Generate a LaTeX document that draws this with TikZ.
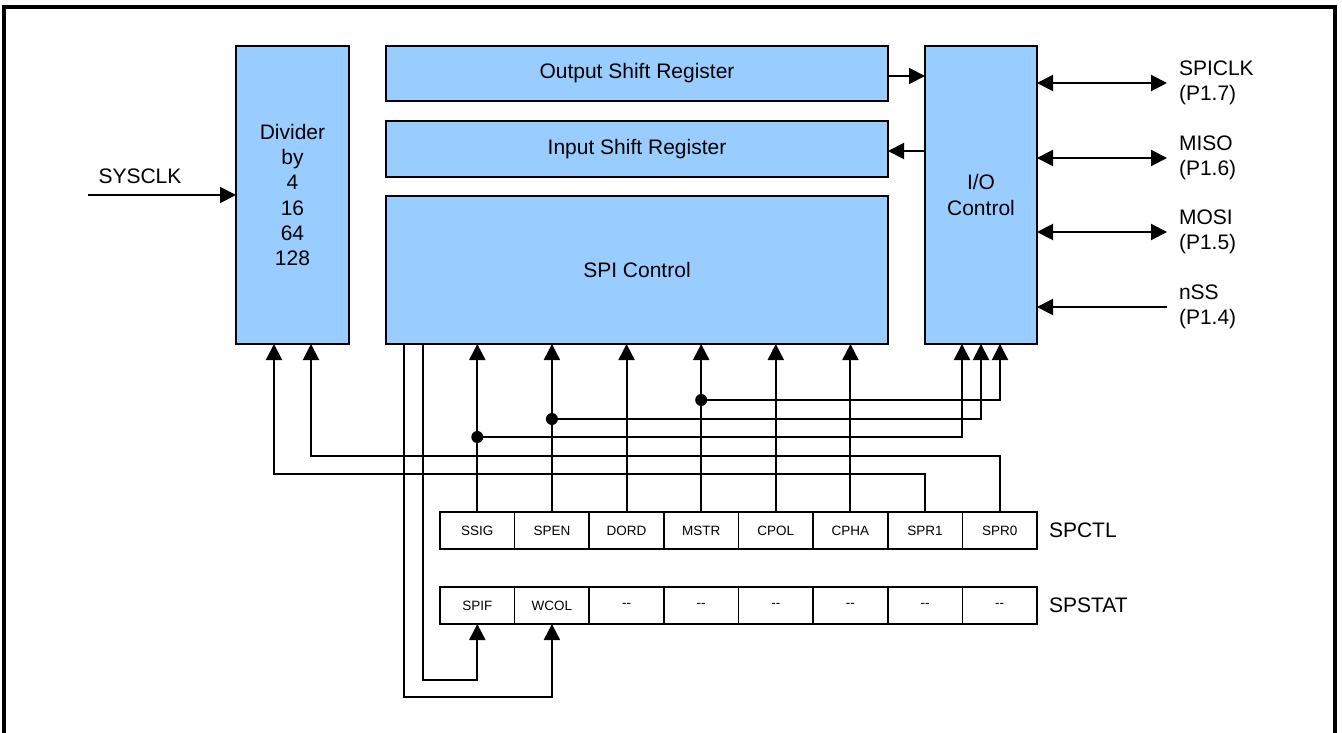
\documentclass[tikz,border=0pt]{standalone}
\usepackage{fontspec}
\setmainfont{Liberation Sans}
\usetikzlibrary{arrows.meta}
\definecolor{boxblue}{HTML}{99CCFF}
\newcommand\lblfont{\fontsize{21}{25.2}\selectfont}
\newcommand\cellfont{\fontsize{13.5}{16}\selectfont}
\begin{document}
\begin{tikzpicture}[x=1pt,y=-1pt,
  line width=2pt,
  box/.style={draw, fill=boxblue, line width=2pt, inner sep=0pt, outer sep=0pt, align=center, font=\lblfont},
  cell/.style={draw, line width=1.6pt, minimum width=74.6pt, minimum height=37pt, inner sep=0pt, outer sep=0pt, font=\cellfont},
  arr/.style={-{Triangle[length=16pt,width=16pt]}},
  darr/.style={{Triangle[length=16pt,width=16pt]}-{Triangle[length=16pt,width=16pt]}},
  dot/.style={circle, fill, inner sep=0pt, minimum size=12pt},
  lbl/.style={font=\lblfont, inner sep=0pt, align=left}
]
\useasboundingbox (0,0) rectangle (1342,733);
% frame
\draw[line width=3.5pt] (4,760) -- (4,7) -- (1335,7) -- (1335,760);

% blocks
\node[box, minimum width=113pt, minimum height=298pt] (div) at (292.5,195) {Divider\\by\\4\\16\\64\\128};
\node[box, minimum width=502pt, minimum height=55pt] (osr) at (637,73.5) {Output Shift Register};
\node[box, minimum width=502pt, minimum height=56pt] (isr) at (637,149) {Input Shift Register};
\node[box, minimum width=502pt, minimum height=148pt] (spi) at (637,270) {SPI Control};
\node[box, minimum width=112pt, minimum height=298pt] (io) at (981,195) {I/O\\Control};

% registers
\foreach \n [count=\i] in {SSIG,SPEN,DORD,MSTR,CPOL,CPHA,SPR1,SPR0}
  \node[cell] (c\i) at ({477.3+(\i-1)*74.625},530.5) {\n};
\foreach \n [count=\i] in {SPIF,WCOL,{-{}-},{-{}-},{-{}-},{-{}-},{-{}-},{-{}-}}
  \node[cell] (s\i) at ({477.3+(\i-1)*74.625},605.5) {\n};
\node[lbl, anchor=west] (spctl) at (1048,530.5) {SPCTL};
\node[lbl, anchor=west] (spstat) at (1048,605.5) {SPSTAT};

% SYSCLK
\node[lbl] (sysl) at (140,176) {SYSCLK};
\coordinate (sysin) at (88,195);
\draw[arr] (sysin) -- (sysin -| div.west);

% shift registers <-> I/O
\draw[arr] ([yshift=-2.5pt]osr.east) -- ([yshift=-2.5pt]osr.east -| io.west);
\draw[arr] ([yshift=-2pt]isr.east -| io.west) -- ([yshift=-2pt]isr.east);

% pins
\node[lbl, anchor=west] (p7) at (1178,83) {SPICLK\\(P1.7)};
\node[lbl, anchor=west] (p6) at (1178,158) {MISO\\(P1.6)};
\node[lbl, anchor=west] (p5) at (1178,232) {MOSI\\(P1.5)};
\node[lbl, anchor=west] (p4) at (1178,307) {nSS\\(P1.4)};
\draw[darr] (io.east |- p7.west) -- ([xshift=-11pt]p7.west);
\draw[darr] (io.east |- p6.west) -- ([xshift=-11pt]p6.west);
\draw[darr] (io.east |- p5.west) -- ([xshift=-11pt]p5.west);
\draw[arr] ([xshift=-11pt]p4.west) -- (io.east |- p4.west);

% control bits to SPI control
\foreach \i in {1,...,6}
  \draw[arr] (c\i.north) -- (c\i.north |- spi.south);

% junctions to I/O control
\coordinate (io1) at ([xshift=-19pt]io.south);
\coordinate (io2) at (io.south);
\coordinate (io3) at ([xshift=19pt]io.south);
\node[dot] (d1) at (477.3,437) {};
\node[dot] (d2) at (551.9,419) {};
\node[dot] (d3) at (701.2,400) {};
\draw[arr] (d1.center) -| (io1);
\draw[arr] (d2.center) -| (io2);
\draw[arr] (d3.center) -| (io3);

% clock rate bits to divider
\coordinate (dv1) at ([xshift=-18.5pt]div.south);
\coordinate (dv2) at ([xshift=18.5pt]div.south);
\coordinate (h1) at (274,474);
\coordinate (h2) at (311,456);
\draw[arr] (c7.north) |- (h1) -- (dv1);
\draw[arr] (c8.north) |- (h2) -- (dv2);

% SPI control to status bits
\coordinate (sp1) at (404,344);
\coordinate (sp2) at (423,344);
\coordinate (b1) at (404,697);
\coordinate (b2) at (423,680);
\draw[arr] (sp1) -- (b1) -| (s2.south);
\draw[arr] (sp2) -- (b2) -| (s1.south);
\end{tikzpicture}
\end{document}
